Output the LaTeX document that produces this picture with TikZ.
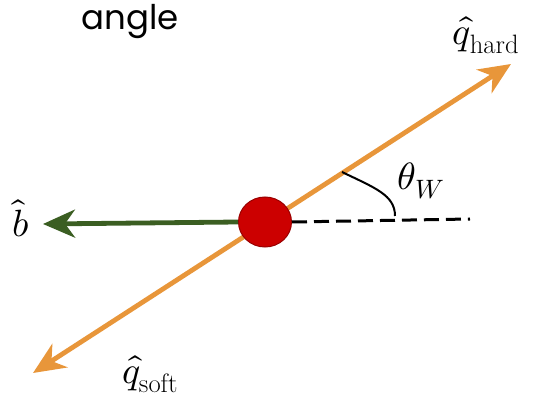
\documentclass[tikz,border=0pt]{standalone}
\usepackage{fontspec}
\usepackage{amsmath}
\usepackage{unicode-math}
\setmathfont{Latin Modern Math}
\newfontfamily\handfont{Poppins}
\usetikzlibrary{arrows.meta,shapes.geometric}
\definecolor{orng}{HTML}{E8963A}
\definecolor{grn}{HTML}{3B5E22}
\definecolor{redc}{HTML}{CC0000}
\definecolor{redb}{HTML}{990000}
\tikzset{
  lbl/.style={inner sep=0pt, font=\fontsize{38}{42}\selectfont},
  vec/.style={line width=4.8pt, -{Stealth[length=32pt,width=28pt,inset=10pt]}},
}
\begin{document}
\begin{tikzpicture}[x=1pt,y=-1pt]
\useasboundingbox (0,0) rectangle (536,398);
\coordinate (hard) at (511,64);
\coordinate (soft) at (33,373);
\coordinate (btip) at (43,224);
\coordinate (dend) at (470,219);
\coordinate (arcA) at (342,172);
\coordinate (arcB) at (395,216);
\draw[orng, line width=4.8pt, {Stealth[length=32pt,width=28pt,inset=10pt]}-{Stealth[length=32pt,width=28pt,inset=10pt]}] (soft) -- (hard);
\node[draw=redb, fill=redc, line width=1pt, ellipse, minimum width=53pt, minimum height=50pt, inner sep=0pt] (c) at (265,222) {};
\draw[grn, vec] (c.west) -- (btip);
\draw[black, line width=3pt, dash pattern=on 15pt off 7pt] (c.east) -- (dend);
\draw[black, line width=2pt] (arcA) .. controls (375,188) and (395,195) .. (arcB);
\node[lbl] (lhard) at (486,35) {$\hat{q}_{\text{hard}}$};
\node[lbl] (lsoft) at (150,374) {$\hat{q}_{\text{soft}}$};
\node[lbl] (lb) at (21,218) {$\hat{b}$};
\node[lbl] (lth) at (421,181) {$\theta_W$};
\node[inner sep=0pt, font=\handfont\fontsize{34}{40}\selectfont] (ttl) at (130,22) {angle};
\end{tikzpicture}
\end{document}
